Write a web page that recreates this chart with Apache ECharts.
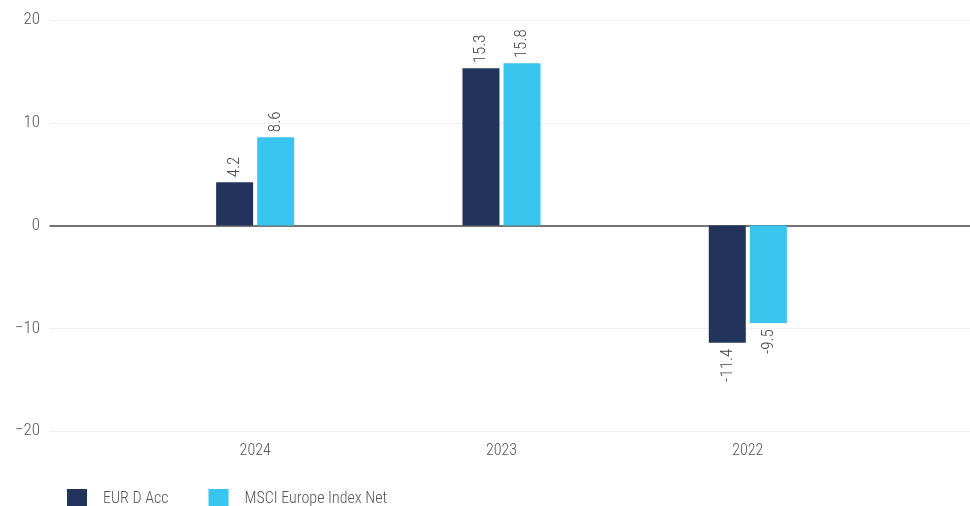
<!DOCTYPE html>
<html><head><meta charset="utf-8">
<script src="https://cdn.jsdelivr.net/npm/echarts@6/dist/echarts.min.js"></script>
<style>html,body{margin:0;padding:0;background:#fff}#c{width:970px;height:506px}</style>
</head><body><div id="c"></div>
<script>
const categories = ['2024', '2023', '2022'];
const seriesNames = ['EUR D Acc', 'MSCI Europe Index Net'];
const fundValues = [4.2, 15.3, -11.4];
const indexValues = [8.6, 15.8, -9.5];
const yTicks = [-20, -10, 0, 10, 20];

const FONT = '"Roboto Condensed", "Liberation Sans Narrow", "DejaVu Sans Condensed", sans-serif';
const W = '300';
const colors = ['#22345b', '#38c5ee'];

function labelFor(v) {
  return v >= 0
    ? { show: true, position: 'top', rotate: 90, align: 'left', verticalAlign: 'middle', distance: 5 }
    : { show: true, position: 'bottom', rotate: 90, align: 'right', verticalAlign: 'middle', distance: 6 };
}
function mk(vals) { return vals.map(v => ({ value: v, label: labelFor(v) })); }

const chart = echarts.init(document.getElementById('c'));
chart.setOption({
  animation: false,
  textStyle: { fontFamily: FONT, fontWeight: W },
  grid: [
    { left: 50, right: 0, top: 20, bottom: 75 },
    { left: 132, right: 99, top: 20, bottom: 75 }
  ],
  legend: {
    data: seriesNames,
    left: 67, top: 489, padding: 0,
    itemWidth: 20, itemHeight: 20, itemGap: 40,
    icon: 'rect',
    textStyle: { fontFamily: FONT, fontWeight: W, fontSize: 16, color: '#555', padding: [0, 0, 0, 11] }
  },
  xAxis: [
    { type: 'category', gridIndex: 0, data: categories,
      axisLine: { show: true, onZero: true, lineStyle: { color: '#4a4a4a', width: 1.5 } },
      axisTick: { show: false }, axisLabel: { show: false }, splitLine: { show: false } },
    { type: 'category', gridIndex: 1, data: categories,
      axisLine: { show: false }, axisTick: { show: false },
      axisLabel: { fontFamily: FONT, fontWeight: W, fontSize: 16, color: '#555', margin: 12 } }
  ],
  yAxis: [
    { type: 'value', gridIndex: 0, min: yTicks[0], max: yTicks[yTicks.length - 1], interval: 10,
      axisLine: { show: false }, axisTick: { show: false },
      axisLabel: { fontFamily: FONT, fontWeight: W, fontSize: 17, color: '#555', margin: 10,
        formatter: v => String(v).replace('-', '\u2212') },
      splitLine: { show: true, lineStyle: { color: '#efefef', width: 1 } } },
    { type: 'value', gridIndex: 1, min: yTicks[0], max: yTicks[yTicks.length - 1], interval: 10,
      show: false, splitLine: { show: false } }
  ],
  series: [
    { name: seriesNames[0], type: 'bar', xAxisIndex: 1, yAxisIndex: 1, data: mk(fundValues),
      barWidth: 37, barGap: '11%', itemStyle: { color: colors[0] },
      label: { fontFamily: FONT, fontWeight: W, fontSize: 17, color: '#444' } },
    { name: seriesNames[1], type: 'bar', xAxisIndex: 1, yAxisIndex: 1, data: mk(indexValues),
      barWidth: 37, barGap: '11%', itemStyle: { color: colors[1] },
      label: { fontFamily: FONT, fontWeight: W, fontSize: 17, color: '#444' } }
  ]
});
</script></body></html>
